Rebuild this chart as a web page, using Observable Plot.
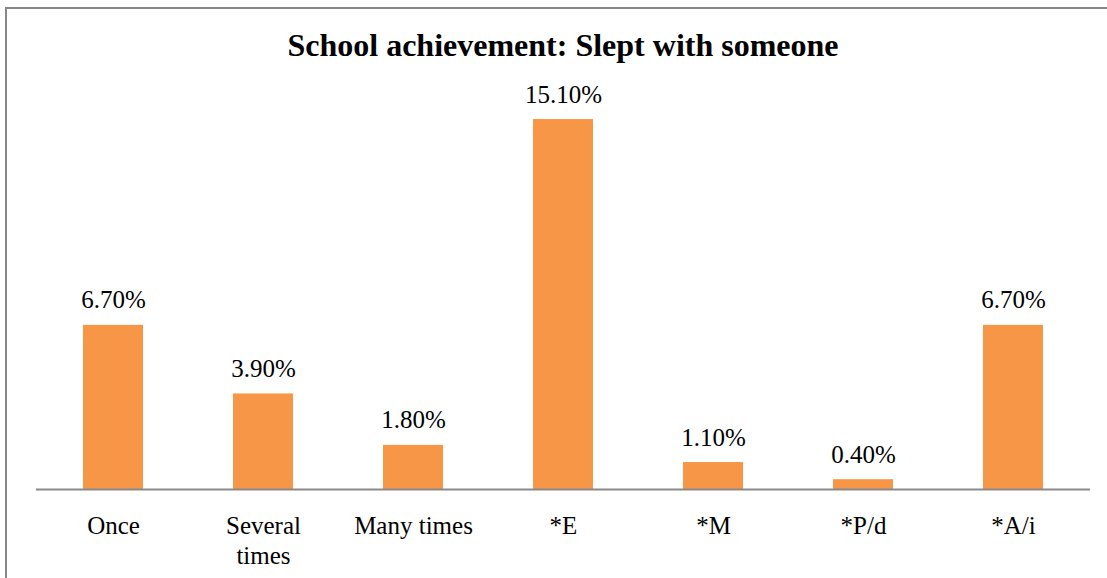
<!DOCTYPE html>
<html>
<head>
<meta charset="utf-8">
<script src="https://cdn.jsdelivr.net/npm/d3@7"></script>
<script src="https://cdn.jsdelivr.net/npm/@observablehq/plot@0.6"></script>
<style>
  html, body { margin: 0; padding: 0; background: #fff; }
  body { width: 1107px; height: 578px; position: relative; overflow: hidden; font-family: "Liberation Serif", "Times New Roman", serif; }
  #frame { position: absolute; left: 5px; top: 7px; width: 1200px; height: 700px; border-left: 2px solid #878787; border-top: 2px solid #878787; box-sizing: border-box; }
  #title { position: absolute; left: 36px; width: 1054px; top: 29px; text-align: center; font: bold 32px/32px "Liberation Serif", "Times New Roman", serif; color: #000; }
  #chart { position: absolute; left: 0; top: 0; }
</style>
</head>
<body>
<div id="frame"></div>
<div id="chart"></div>
<div id="title">School achievement: Slept with someone</div>
<script>
const categories = ["Once", "Several times", "Many times", "*E", "*M", "*P/d", "*A/i"];
const tickLabels = ["Once", "Several\ntimes", "Many times", "*E", "*M", "*P/d", "*A/i"];
const values = [6.7, 3.9, 1.8, 15.1, 1.1, 0.4, 6.7];
const valueLabels = ["6.70%", "3.90%", "1.80%", "15.10%", "1.10%", "0.40%", "6.70%"];

const data = categories.map((c, i) => ({category: c, value: values[i], label: valueLabels[i]}));
const tickMap = new Map(categories.map((c, i) => [c, tickLabels[i]]));

const chart = Plot.plot({
  width: 1107,
  height: 578,
  marginLeft: 36,
  marginRight: 17,
  marginTop: 97,
  marginBottom: 89,
  style: {fontFamily: "'Liberation Serif', 'Times New Roman', serif", background: "transparent", overflow: "visible"},
  x: {domain: categories, paddingInner: 0.6, paddingOuter: 0.3, axis: null},
  y: {domain: [0, 16], axis: null},
  marks: [
    Plot.barY(data, {x: "category", y: "value", fill: "#F79646"}),
    Plot.ruleY([0], {stroke: "#898989", strokeWidth: 2}),
    Plot.text(data, {x: "category", y: "value", text: "label", lineAnchor: "bottom", dy: -17, fontSize: 25, fill: "#000"}),
    Plot.axisX({domain: categories, tickSize: 0, tickPadding: 23, tickFormat: d => tickMap.get(d), fontSize: 25, lineHeight: 1.2, fill: "#000", label: null})
  ]
});
document.getElementById("chart").appendChild(chart);
</script>
</body>
</html>
